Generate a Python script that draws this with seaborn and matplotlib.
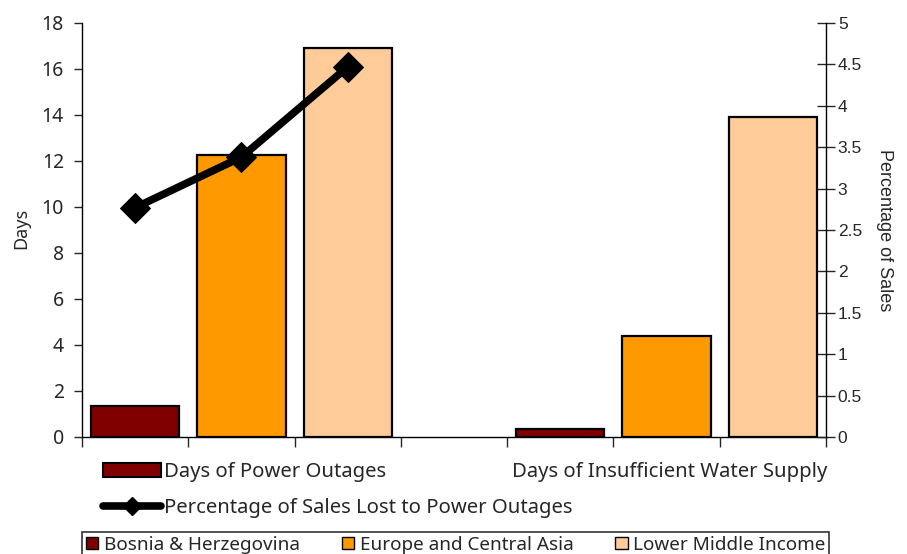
import pandas as pd
import matplotlib
matplotlib.use("Agg")
import matplotlib.pyplot as plt
from matplotlib.patches import Patch
from matplotlib.lines import Line2D
import seaborn as sns

groups = ["Days of Power Outages", "Days of Insufficient Water Supply"]
countries = ["Bosnia & Herzegovina", "Europe and Central Asia", "Lower Middle Income"]
power_days = [1.33, 12.27, 16.9]
water_days = [0.35, 4.4, 13.9]
sales_lost_pct = [2.77, 3.38, 4.47]
line_label = "Percentage of Sales Lost to Power Outages"
colors = ["#800000", "#FF9900", "#FFCC99"]

sns.set_style("white")
plt.rcParams["font.family"] = ["Noto Sans", "DejaVu Sans"]

rows = []
for grp, vals in zip(groups, [power_days, water_days]):
    for c, v in zip(countries, vals):
        rows.append({"slot": grp + " | " + c, "country": c, "days": v})
df = pd.DataFrame(rows)
order = [groups[0] + " | " + c for c in countries] + ["gap"] + [groups[1] + " | " + c for c in countries]
palette = dict(zip(countries, colors))

fig = plt.figure(figsize=(9.07, 5.54), dpi=100)
ax = fig.add_axes([0.0904, 0.2112, 0.8203, 0.7473])
sns.barplot(data=df, x="slot", y="days", hue="country", order=order, hue_order=countries,
            palette=palette, dodge=False, width=0.83, edgecolor="black", linewidth=1.6,
            saturation=1, ax=ax, legend=False)
ax.set_xlim(-0.5, 6.5)
ax.set_ylim(0, 18)
ax.set_yticks(range(0, 19, 2))
ax.set_xticks([i - 0.5 for i in range(8)])
ax.set_xticklabels([])
ax.set_xlabel("")
ax.set_ylabel("Days", fontsize=13)
ax.yaxis.set_label_coords(-0.07, 0.505)
ax.tick_params(axis="y", direction="out", length=6, width=1, labelsize=14, pad=7, left=True)
ax.tick_params(axis="x", direction="out", length=7, width=1, bottom=True)
for s in ["left", "bottom"]:
    ax.spines[s].set_color("black")
    ax.spines[s].set_linewidth(1)
ax.spines["top"].set_visible(False)
ax.spines["right"].set_visible(False)

ax2 = ax.twinx()
sns.lineplot(x=[0, 1, 2], y=sales_lost_pct, ax=ax2, color="black", linewidth=5.5,
             marker="D", markersize=15, markeredgecolor="black")
ax2.set_xlim(-0.5, 6.5)
ax2.set_ylim(0, 5)
ax2.set_yticks([i * 0.5 for i in range(11)])
ax2.set_yticklabels(["0", "0.5", "1", "1.5", "2", "2.5", "3", "3.5", "4", "4.5", "5"],
                    family=["Liberation Sans", "DejaVu Sans"])
ax2.set_ylabel("Percentage of Sales", fontsize=13, rotation=270, va="center",
               family=["Liberation Sans", "DejaVu Sans"])
ax2.yaxis.set_label_coords(1.079, 0.5)
ax2.tick_params(axis="y", direction="inout", length=13, width=1, labelsize=12.5, pad=2, right=True)
ax2.spines["right"].set_color("black")
ax2.spines["right"].set_linewidth(1)
for s in ["top", "left", "bottom"]:
    ax2.spines[s].set_visible(False)

lfont = {"family": ["Noto Sans", "DejaVu Sans"], "size": 14.6}
h_power = Patch(facecolor=colors[0], edgecolor="black", linewidth=1.5)
h_water = Patch(facecolor="none", edgecolor="none")
h_line = Line2D([], [], color="black", linewidth=5.5, marker="D", markersize=9)

fig.legend(handles=[h_power], labels=[groups[0]], loc="center left",
           bbox_to_anchor=(0.1136, 0.148), frameon=False, prop=lfont,
           handlelength=2.85, handleheight=0.72, handletextpad=0.15, borderpad=0, borderaxespad=0)
fig.legend(handles=[h_water], labels=[groups[1]], loc="center left",
           bbox_to_anchor=(0.565, 0.148), frameon=False, prop=lfont,
           handlelength=0, handletextpad=0, borderpad=0, borderaxespad=0)
fig.legend(handles=[h_line], labels=[line_label], loc="center left",
           bbox_to_anchor=(0.1136, 0.083), frameon=False, prop=lfont,
           handlelength=2.85, handletextpad=0.15, borderpad=0, borderaxespad=0)

country_handles = [Patch(facecolor=c, edgecolor="black", linewidth=1) for c in colors]
leg = fig.legend(handles=country_handles, labels=countries, loc="lower left", ncol=3,
                 bbox_to_anchor=(0.0904, -0.006, 0.824, 0.05), mode="expand",
                 prop={"family": ["Noto Sans", "DejaVu Sans"], "size": 13.6}, frameon=True,
                 fancybox=False, handlelength=0.65, handleheight=0.65, handletextpad=0.3,
                 borderpad=0.2, borderaxespad=0, columnspacing=0.5)
leg.get_frame().set_edgecolor("black")
leg.get_frame().set_linewidth(1.2)

fig.savefig("out.png", dpi=100)
